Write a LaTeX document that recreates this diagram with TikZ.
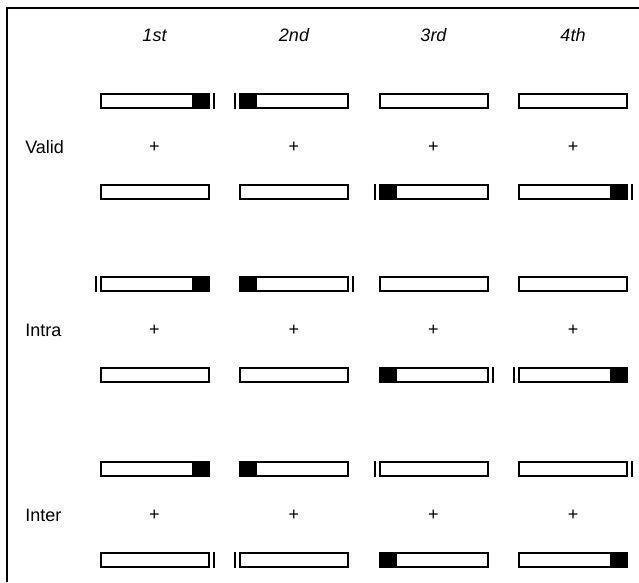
\documentclass[tikz,border=0pt]{standalone}
\usepackage{fontspec}
\setmainfont{Liberation Sans}
\usetikzlibrary{positioning}

\tikzset{
  bar/.style={draw, line width=1.5pt, minimum width=81pt, minimum height=11pt, inner sep=0pt},
  endL/.style={path picture={\fill (path picture bounding box.north west) rectangle ([xshift=12.75pt]path picture bounding box.south west);}},
  endR/.style={path picture={\fill (path picture bounding box.north east) rectangle ([xshift=-12.75pt]path picture bounding box.south east);}},
  tick/.style={line width=1.5pt},
  colname/.style={font=\fontsize{13.5}{16}\selectfont\itshape},
  rowname/.style={font=\fontsize{13.5}{16}\selectfont, anchor=west, inner sep=0pt},
  plussign/.style={font=\fontsize{13.5}{16}\selectfont}
}

\begin{document}
\begin{tikzpicture}[x=0.75pt,y=0.75pt,node distance=104.625pt,on grid]
  \useasboundingbox (0,0) rectangle (639,582);
  \draw[line width=1.5pt] (7,0) -- (7,574) -- (639,574);

  % column heads
  \node[colname] (h1) at (154.5,547) {1st};
  \node[colname] (h2) [right=of h1] {2nd};
  \node[colname] (h3) [right=of h2] {3rd};
  \node[colname] (h4) [right=of h3] {4th};

  % valid
  \node[rowname] (valid) at (25,435) {Valid};
  \node[bar, endR] (vt1) at (154.5,481) {};
  \node[bar, endL] (vt2) [right=of vt1] {};
  \node[bar] (vt3) [right=of vt2] {};
  \node[bar] (vt4) [right=of vt3] {};
  \node[plussign] (vp1) at (154.5,435) {+};
  \node[plussign] (vp2) [right=of vp1] {+};
  \node[plussign] (vp3) [right=of vp2] {+};
  \node[plussign] (vp4) [right=of vp3] {+};
  \node[bar] (vb1) at (154.5,390) {};
  \node[bar] (vb2) [right=of vb1] {};
  \node[bar, endL] (vb3) [right=of vb2] {};
  \node[bar, endR] (vb4) [right=of vb3] {};
  \draw[tick] ([xshift=3pt]vt1.south east) -- ([xshift=3pt]vt1.north east);
  \draw[tick] ([xshift=-3pt]vt2.south west) -- ([xshift=-3pt]vt2.north west);
  \draw[tick] ([xshift=-3pt]vb3.south west) -- ([xshift=-3pt]vb3.north west);
  \draw[tick] ([xshift=3pt]vb4.south east) -- ([xshift=3pt]vb4.north east);

  % intra
  \node[rowname] (intra) at (25,252) {Intra};
  \node[bar, endR] (it1) at (154.5,298) {};
  \node[bar, endL] (it2) [right=of it1] {};
  \node[bar] (it3) [right=of it2] {};
  \node[bar] (it4) [right=of it3] {};
  \node[plussign] (ip1) at (154.5,252) {+};
  \node[plussign] (ip2) [right=of ip1] {+};
  \node[plussign] (ip3) [right=of ip2] {+};
  \node[plussign] (ip4) [right=of ip3] {+};
  \node[bar] (ib1) at (154.5,207) {};
  \node[bar] (ib2) [right=of ib1] {};
  \node[bar, endL] (ib3) [right=of ib2] {};
  \node[bar, endR] (ib4) [right=of ib3] {};
  \draw[tick] ([xshift=-3pt]it1.south west) -- ([xshift=-3pt]it1.north west);
  \draw[tick] ([xshift=3pt]it2.south east) -- ([xshift=3pt]it2.north east);
  \draw[tick] ([xshift=3pt]ib3.south east) -- ([xshift=3pt]ib3.north east);
  \draw[tick] ([xshift=-3pt]ib4.south west) -- ([xshift=-3pt]ib4.north west);

  % inter
  \node[rowname] (inter) at (25,67) {Inter};
  \node[bar, endR] (et1) at (154.5,113) {};
  \node[bar, endL] (et2) [right=of et1] {};
  \node[bar] (et3) [right=of et2] {};
  \node[bar] (et4) [right=of et3] {};
  \node[plussign] (ep1) at (154.5,67) {+};
  \node[plussign] (ep2) [right=of ep1] {+};
  \node[plussign] (ep3) [right=of ep2] {+};
  \node[plussign] (ep4) [right=of ep3] {+};
  \node[bar] (eb1) at (154.5,22) {};
  \node[bar] (eb2) [right=of eb1] {};
  \node[bar, endL] (eb3) [right=of eb2] {};
  \node[bar, endR] (eb4) [right=of eb3] {};
  \draw[tick] ([xshift=-3pt]et3.south west) -- ([xshift=-3pt]et3.north west);
  \draw[tick] ([xshift=3pt]et4.south east) -- ([xshift=3pt]et4.north east);
  \draw[tick] ([xshift=3pt]eb1.south east) -- ([xshift=3pt]eb1.north east);
  \draw[tick] ([xshift=-3pt]eb2.south west) -- ([xshift=-3pt]eb2.north west);
\end{tikzpicture}
\end{document}
